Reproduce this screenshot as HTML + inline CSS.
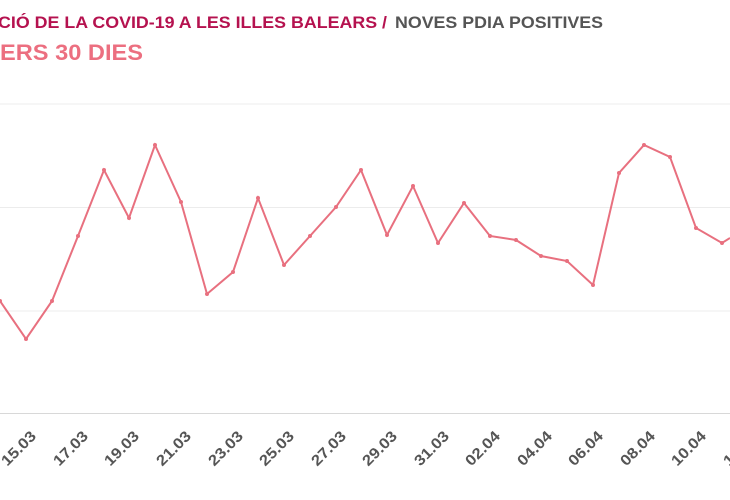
<!DOCTYPE html><html><head><style>body{margin:0;background:#fff}svg{display:block}</style></head><body>
<svg width="730" height="500" xmlns="http://www.w3.org/2000/svg" font-family="Liberation Sans, sans-serif">
<text x="-2" y="28" font-size="17" font-weight="bold" fill="#b5124f" textLength="389" lengthAdjust="spacingAndGlyphs">CIÓ DE LA COVID-19 A LES ILLES BALEARS /</text>
<text x="395" y="28" font-size="17" font-weight="bold" fill="#555" textLength="208" lengthAdjust="spacingAndGlyphs">NOVES PDIA POSITIVES</text>
<text x="0" y="60" font-size="22" font-weight="bold" fill="#ec6f80" textLength="143" lengthAdjust="spacingAndGlyphs">ERS 30 DIES</text>
<g stroke="#ececec" stroke-width="1"><line x1="0" y1="104" x2="730" y2="104"/><line x1="0" y1="207.5" x2="730" y2="207.5"/><line x1="0" y1="311" x2="730" y2="311"/></g>
<line x1="0" y1="413.5" x2="730" y2="413.5" stroke="#d8d8d8"/>
<polyline fill="none" stroke="#e8707f" stroke-width="2" points="0,301 26,339 52,301 78,236 104,170 129,218 155,145 181,202 207,294 233,272 258,198 284,265 310,236 336,207 361,170 387,235 413,186 438,243 464,203 490,236 516,240 541,256 567,261 593,285 619,173 644,145 670,157 696,228 722,243 730,238"/>
<g fill="#e8707f"><circle cx="0" cy="301" r="2"/><circle cx="26" cy="339" r="2"/><circle cx="52" cy="301" r="2"/><circle cx="78" cy="236" r="2"/><circle cx="104" cy="170" r="2"/><circle cx="129" cy="218" r="2"/><circle cx="155" cy="145" r="2"/><circle cx="181" cy="202" r="2"/><circle cx="207" cy="294" r="2"/><circle cx="233" cy="272" r="2"/><circle cx="258" cy="198" r="2"/><circle cx="284" cy="265" r="2"/><circle cx="310" cy="236" r="2"/><circle cx="336" cy="207" r="2"/><circle cx="361" cy="170" r="2"/><circle cx="387" cy="235" r="2"/><circle cx="413" cy="186" r="2"/><circle cx="438" cy="243" r="2"/><circle cx="464" cy="203" r="2"/><circle cx="490" cy="236" r="2"/><circle cx="516" cy="240" r="2"/><circle cx="541" cy="256" r="2"/><circle cx="567" cy="261" r="2"/><circle cx="593" cy="285" r="2"/><circle cx="619" cy="173" r="2"/><circle cx="644" cy="145" r="2"/><circle cx="670" cy="157" r="2"/><circle cx="696" cy="228" r="2"/><circle cx="722" cy="243" r="2"/></g>
<g font-size="15" font-weight="bold" fill="#555" text-anchor="end">
<text transform="translate(37,437) rotate(-45)" textLength="42" lengthAdjust="spacingAndGlyphs">15.03</text>
<text transform="translate(89,437) rotate(-45)" textLength="42" lengthAdjust="spacingAndGlyphs">17.03</text>
<text transform="translate(140,437) rotate(-45)" textLength="42" lengthAdjust="spacingAndGlyphs">19.03</text>
<text transform="translate(192,437) rotate(-45)" textLength="42" lengthAdjust="spacingAndGlyphs">21.03</text>
<text transform="translate(244,437) rotate(-45)" textLength="42" lengthAdjust="spacingAndGlyphs">23.03</text>
<text transform="translate(295,437) rotate(-45)" textLength="42" lengthAdjust="spacingAndGlyphs">25.03</text>
<text transform="translate(347,437) rotate(-45)" textLength="42" lengthAdjust="spacingAndGlyphs">27.03</text>
<text transform="translate(398,437) rotate(-45)" textLength="42" lengthAdjust="spacingAndGlyphs">29.03</text>
<text transform="translate(450,437) rotate(-45)" textLength="42" lengthAdjust="spacingAndGlyphs">31.03</text>
<text transform="translate(501,437) rotate(-45)" textLength="42" lengthAdjust="spacingAndGlyphs">02.04</text>
<text transform="translate(553,437) rotate(-45)" textLength="42" lengthAdjust="spacingAndGlyphs">04.04</text>
<text transform="translate(604,437) rotate(-45)" textLength="42" lengthAdjust="spacingAndGlyphs">06.04</text>
<text transform="translate(656,437) rotate(-45)" textLength="42" lengthAdjust="spacingAndGlyphs">08.04</text>
<text transform="translate(707,437) rotate(-45)" textLength="42" lengthAdjust="spacingAndGlyphs">10.04</text>
<text transform="translate(759,437) rotate(-45)" textLength="42" lengthAdjust="spacingAndGlyphs">12.04</text>
</g>
</svg></body></html>
